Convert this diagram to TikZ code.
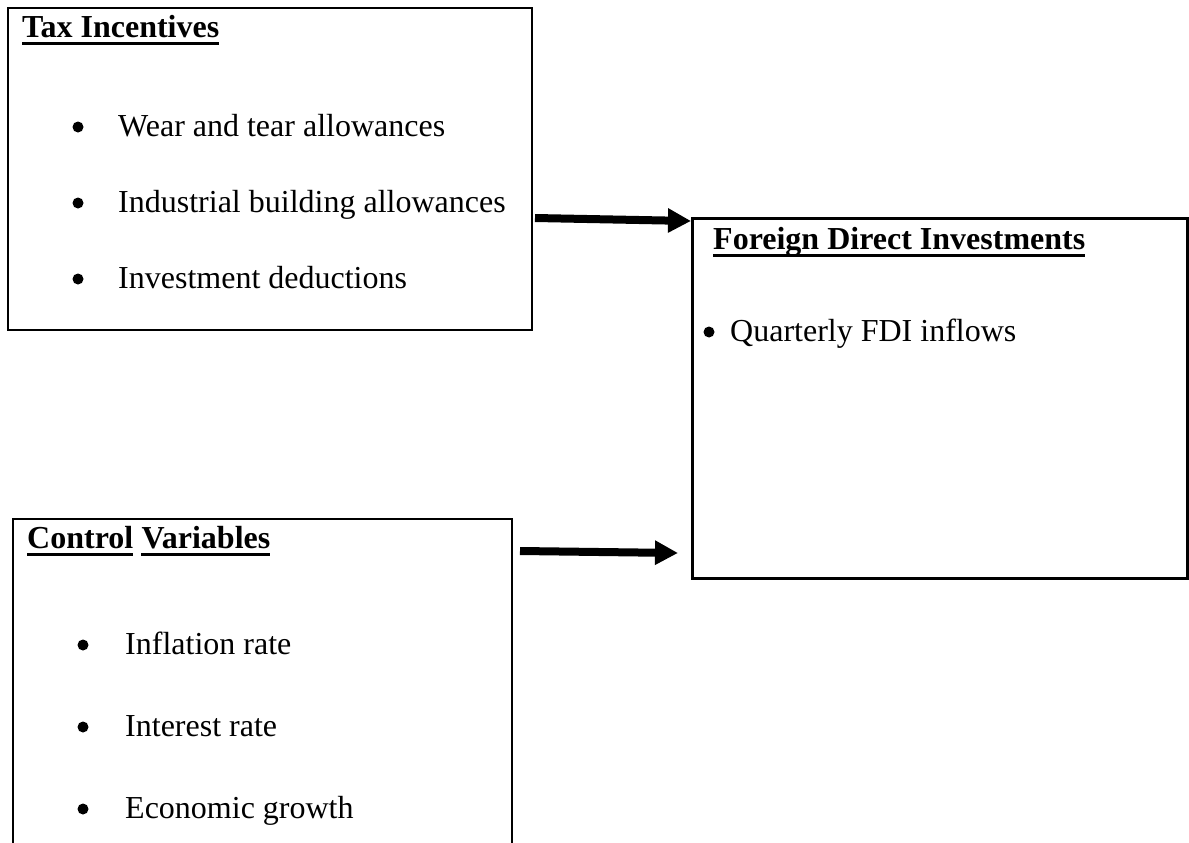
\documentclass[tikz,border=0pt]{standalone}
\usepackage{fontspec}
\setmainfont{Liberation Serif}
\usetikzlibrary{arrows.meta,calc}
\begin{document}
\begin{tikzpicture}[x=1pt,y=-1pt,
  box/.style={draw, line width=2pt, inner sep=0pt, outer sep=0pt, anchor=north west},
  head/.style={font=\fontsize{32}{38}\selectfont\bfseries, anchor=base west, inner sep=0pt},
  item/.style={font=\fontsize{32}{38}\selectfont, anchor=base west, inner sep=0pt},
  dot/.style={circle, fill=black, inner sep=0pt, minimum size=11pt},
  link/.style={line width=8pt, -{Triangle[length=23pt,width=23pt]}},
  ul/.style={line width=3pt}
]
\useasboundingbox (0,0) rectangle (1189,843);

% boxes
\node[box, minimum width=524pt, minimum height=322pt] (tax) at (8,8) {};
\node[box, line width=3pt, minimum width=495pt, minimum height=360pt] (fdi) at (692,218) {};
\node[box, draw=none, minimum width=499pt, minimum height=330pt] (ctrl) at (13,519) {};
\draw[line width=2pt] (ctrl.south west) -- (ctrl.north west) -- (ctrl.north east) -- (ctrl.south east);

% Tax incentives
\node[head] (taxh) at (22,38) {Tax Incentives};
\draw[ul] ([yshift=-6pt]taxh.base west) -- ([yshift=-6pt]taxh.base east);
\node[dot] (tb1) at (78,127) {};
\node[item] (t1) at (118,136) {Wear and tear allowances};
\node[dot] (tb2) at (78,203) {};
\node[item] (t2) at (118,212) {Industrial building allowances};
\node[dot] (tb3) at (78,279) {};
\node[item] (t3) at (118,288) {Investment deductions};

% FDI
\node[head] (fdih) at (713,249) {Foreign Direct Investments};
\draw[ul] ([yshift=-6pt]fdih.base west) -- ([yshift=-6pt]fdih.base east);
\node[dot] (fb1) at (709,332) {};
\node[item] (f1) at (730,341) {Quarterly FDI inflows};

% Control variables
\node[head] (ch1) at (27,548) {Control};
\node[head] (ch2) at ([xshift=8pt]ch1.base east) {Variables};
\draw[ul] ([yshift=-6pt]ch1.base west) -- ([yshift=-6pt]ch1.base east);
\draw[ul] ([yshift=-6pt]ch2.base west) -- ([yshift=-6pt]ch2.base east);
\node[dot] (cb1) at (83,645) {};
\node[item] (c1) at (125,654) {Inflation rate};
\node[dot] (cb2) at (83,727) {};
\node[item] (c2) at (125,736) {Interest rate};
\node[dot] (cb3) at (83,809) {};
\node[item] (c3) at (125,818) {Economic growth};

% arrows
\draw[link] ([shift={(3,210)}]tax.north east) -- ([shift={(-1,3)}]fdi.north west);
\draw[link] ([shift={(8,32)}]ctrl.north east) -- ([shift={(-14,-25)}]fdi.south west);
\end{tikzpicture}
\end{document}
